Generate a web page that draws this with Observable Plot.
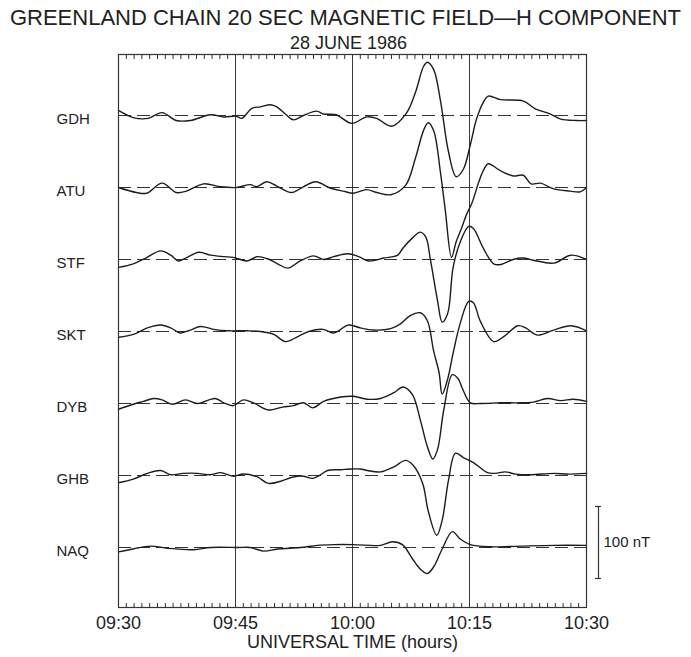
<!DOCTYPE html>
<html>
<head>
<meta charset="utf-8">
<script src="https://cdn.jsdelivr.net/npm/d3@7"></script>
<script src="https://cdn.jsdelivr.net/npm/@observablehq/plot@0.6"></script>
<style>
  body { margin: 0; background: #fff; font-family: "Liberation Sans", Arial, sans-serif; color: #222; }
  #title { height: 27px; padding-top: 7px; font-size: 22px; line-height: 22px; text-align: center; white-space: nowrap; }
  #subtitle { height: 18px; font-size: 18px; line-height: 18px; text-align: center; padding-left: 6px; }
</style>
</head>
<body>
<div id="title">GREENLAND CHAIN 20 SEC MAGNETIC FIELD—H COMPONENT</div>
<div id="subtitle">28 JUNE 1986</div>
<div id="chart"></div>
<script>
// Station codes, north (top) to south (bottom)
const stations = ["GDH", "ATU", "STF", "SKT", "DYB", "GHB", "NAQ"];

// Time axis: minutes after 09:30 UT
const tickMinutes = [0, 15, 30, 45, 60];
const tickLabels = ["09:30", "09:45", "10:00", "10:15", "10:30"];

// H-component deviation from each station's baseline, [minute, nT]
const GDH = [[0,7],[1.9,-3],[3.8,-4],[5.6,4],[7.4,-7],[9.2,-7],[11.8,1],[13.5,-2],[15.1,-1],[15.8,-4],[17.1,10],[18.2,12],[19.5,15],[20.3,12],[21.5,1],[22.4,-6],[23.7,0],[25.4,6],[26.3,2],[27.9,1],[29.9,-11],[31.8,-2],[33.1,-4],[35,-15],[36.9,3],[38.1,33],[39.1,68],[39.6,74],[40.4,64],[41.3,19],[42.3,-50],[43.3,-85],[44.2,-75],[45.1,-41],[45.9,-5],[46.8,19],[47.4,27],[49,22],[51.9,20],[53.5,9],[55.4,2],[56.7,-5],[58.7,-7],[60,-7]];
const ATU = [[0,0],[2.3,-7],[3.6,-8],[5.6,6],[7.4,-7],[8.7,-5],[10.9,5],[13.1,1],[15.1,0],[16.9,4],[17.7,1],[19,8],[20.3,2],[22.2,-7],[23.7,1],[25.3,8],[27.2,-1],[28.8,-5],[30.1,-8],[31.8,-3],[33.1,-7],[34.9,-10],[36.8,3],[38.1,42],[39.1,79],[39.7,90],[40.4,79],[41.3,19],[41.9,-32],[42.7,-97],[43.3,-75],[44,-56],[44.6,-38],[45.3,-22],[46.2,8],[46.8,24],[47.4,33],[49,23],[50.6,16],[51.9,17],[52.9,5],[54.1,6],[55.8,-2],[57.9,-5],[59.2,-6],[60,0]];
const STF = [[0,-11],[1.9,-6],[3.5,2],[5.4,12],[6.7,6],[7.7,-2],[8.8,3],[10.3,10],[11.8,6],[13.5,4],[14.7,3],[16.5,-2],[17.8,4],[19.1,1],[20.4,-6],[21.7,-12],[23.3,-2],[25,5],[26.3,0],[27.6,4],[29.4,8],[30.8,4],[32.1,-2],[34,2],[35.8,6],[36.4,15],[37.7,30],[38.7,38],[39.4,31],[40,-1],[40.9,-57],[41.5,-87],[42.2,-75],[42.9,-11],[43.8,24],[44.9,46],[45.5,43],[46.8,15],[48.1,-6],[49,-7],[50.6,0],[51.9,2],[53.2,-1],[55.8,-5],[58,6],[60,0]];
const SKT = [[0,-8],[1.9,-4],[3.7,5],[5.4,9],[6.7,5],[7.9,-2],[9.2,2],[10.5,7],[12.2,3],[14,1],[16.5,1],[18.2,0],[19.9,-4],[21.4,-14],[23,-7],[24.4,0],[26.2,3],[27.6,-2],[29.5,9],[31,5],[32.7,2],[34.9,4],[36.2,11],[37.4,22],[38.7,26],[39.6,15],[40.4,-27],[41.1,-57],[41.5,-87],[42.2,-66],[42.9,-30],[43.8,11],[44.9,42],[45.5,40],[46.4,14],[48.1,-14],[49.4,-7],[51.2,8],[52.2,5],[53.7,-5],[55.8,2],[58,8],[60,1]];
const DYB = [[0,-8],[1.9,-1],[3.2,3],[4.5,7],[5.6,5],[6.9,-1],[8.6,5],[10.1,0],[12.4,7],[13.5,1],[14.7,-3],[16,5],[17.3,1],[19.2,-9],[21,-5],[22.4,-3],[23.7,1],[24.9,-6],[26.3,3],[28.5,9],[30.1,10],[31.9,6],[33.6,7],[35.3,15],[36.5,23],[37.7,12],[38.7,-23],[39.6,-60],[40.3,-77],[40.9,-64],[41.7,-9],[42.8,40],[43.5,35],[44.2,18],[45.1,1],[46.4,0],[49,1],[51.5,1],[53.2,2],[55,7],[56.7,4],[58.3,6],[60,3]];
const GHB = [[0,-10],[1.9,-5],[3.7,3],[5.4,7],[6.7,1],[8.3,3],[10.1,3],[11.8,1],[13.1,4],[14.7,-1],[16,2],[17.8,-2],[19.2,-11],[20.8,-8],[22.4,-2],[23.7,-1],[24.9,-4],[25.9,1],[26.8,7],[28.5,8],[29.7,9],[31,9],[31.9,7],[33.6,5],[35.3,12],[36.8,21],[37.8,14],[39,-11],[39.7,-49],[40.8,-83],[41.5,-62],[42.3,-7],[43.2,31],[44.2,25],[45.5,18],[47.3,4],[48.3,3],[49.6,5],[50.9,2],[52.8,1],[55.8,3],[57.6,2],[60,3]];
const NAQ = [[0,-6],[1.9,-2],[4.1,2],[6.3,-1],[9.6,-3],[11.8,0],[15.3,0],[16.9,0],[18.6,-5],[20.4,-2],[23.3,0],[25.5,3],[27.6,4],[30.1,4],[33.6,3],[35.1,8],[36.4,4],[37.7,-16],[38.7,-30],[39.6,-36],[40.4,-27],[41.5,-2],[42.8,22],[43.8,12],[45.1,4],[47.7,1],[51.5,2],[55.8,3],[60,3]];

const series = [GDH, ATU, STF, SKT, DYB, GHB, NAQ];
const spacing = 100;      // nT between stacked traces
const scaleBarNT = 100;   // length of the scale bar

// Each trace is shifted down by its station index
const rows = stations.flatMap((s, k) =>
  series[k].map(([t, v]) => ({station: s, t, h: v - k * spacing}))
);
const baselines = stations.map((s, k) => -k * spacing);

const width = 691, height = 605;
const marginLeft = 118, marginRight = 105, marginTop = 2, marginBottom = 50;
const yTop = 84.7, yBottom = -683.3;
const pxPerNT = (height - marginTop - marginBottom) / (yTop - yBottom);
const pxPerMin = (width - marginLeft - marginRight) / 60;
const minuteTicks = d3.range(1, 60);
const barTop = -543, barBottom = barTop - scaleBarNT;

const chart = Plot.plot({
  width, height, marginLeft, marginRight, marginTop, marginBottom,
  style: {fontFamily: "'Liberation Sans', Arial, sans-serif", color: "#222", background: "white", overflow: "visible"},
  x: {domain: [0, 60]},
  y: {domain: [yBottom, yTop], axis: null},
  marks: [
    Plot.ruleX([15, 30, 45], {stroke: "#3a3a3a", strokeWidth: 1}),
    Plot.ruleX(minuteTicks, {y1: yTop, y2: yTop - 5 / pxPerNT, stroke: "#333", strokeWidth: 1}),
    Plot.ruleX(minuteTicks, {y1: yBottom, y2: yBottom + 4 / pxPerNT, stroke: "#333", strokeWidth: 1}),
    Plot.ruleY(baselines, {x1: 0, x2: 60, stroke: "#333", strokeWidth: 1.2, strokeDasharray: "13,6"}),
    Plot.line(rows, {x: "t", y: "h", z: "station", curve: "catmull-rom", stroke: "#1c1c1c", strokeWidth: 1.4}),
    Plot.frame({stroke: "#333", strokeWidth: 1.2}),
    Plot.text(stations, {x: 0, y: (d, i) => baselines[i], dx: -62, dy: 4, textAnchor: "start", fontSize: 15, fill: "#222"}),
    Plot.axisX({ticks: tickMinutes, tickFormat: d => tickLabels[tickMinutes.indexOf(d)], tickSize: 0, tickPadding: 9, fontSize: 18, label: null}),
    Plot.text(["UNIVERSAL TIME (hours)"], {frameAnchor: "bottom", dy: 40, fontSize: 18, fill: "#222"}),
    // 100 nT scale bar
    Plot.ruleX([60], {y1: barTop, y2: barBottom, dx: 12, stroke: "#333", strokeWidth: 1.2}),
    Plot.ruleY([barTop, barBottom], {x1: 60 + 9 / pxPerMin, x2: 60 + 15 / pxPerMin, stroke: "#333", strokeWidth: 1.2}),
    Plot.text([`${scaleBarNT} nT`], {x: 60, y: (barTop + barBottom) / 2, dx: 17, textAnchor: "start", fontSize: 15, fill: "#222"})
  ]
});
document.getElementById("chart").appendChild(chart);
</script>
</body>
</html>
